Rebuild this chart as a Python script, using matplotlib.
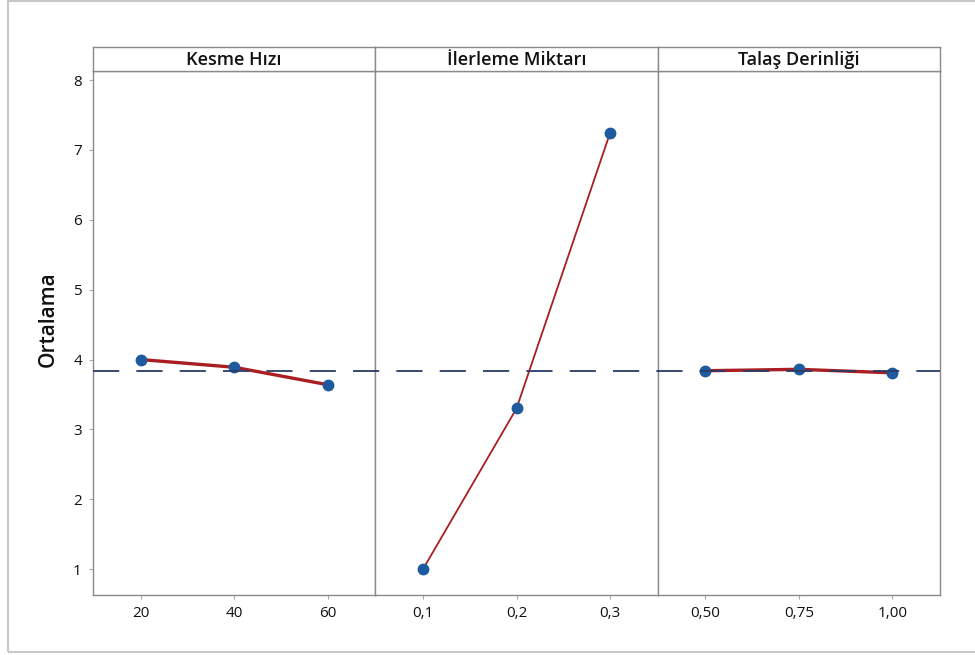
import matplotlib
matplotlib.use("Agg")
import matplotlib.pyplot as plt
from matplotlib.patches import Rectangle

plt.rcParams['font.family'] = ['Open Sans', 'DejaVu Sans']

factors = ["Kesme Hızı", "İlerleme Miktarı", "Talaş Derinliği"]
levels = [["20", "40", "60"], ["0,1", "0,2", "0,3"], ["0,50", "0,75", "1,00"]]
means = [[4.00, 3.89, 3.64], [1.00, 3.30, 7.24], [3.84, 3.86, 3.81]]
grand_mean = 3.84
yticks = [1, 2, 3, 4, 5, 6, 7, 8]
ylabel = "Ortalama"

W, H = 975, 655
fig = plt.figure(figsize=(W / 100, H / 100), dpi=100)
fig.patches.append(Rectangle((8 / W, 1 - 652 / H), 1.1, (652 - 1) / H,
                             transform=fig.transFigure, fill=False,
                             edgecolor='#C8C8C8', linewidth=1.5, zorder=0))

left, right = 93 / W, 940 / W
bottom, top = 1 - 595 / H, 1 - 71 / H
strip_top = 1 - 47 / H
pw = (right - left) / 3
ylim = (0.63, 8.13)
spine_c = '#8A8A8A'
line_lws = [2.4, 1.3, 2.4]
txt_c = '#111111'

axes = []
for i in range(3):
    ax = fig.add_axes([left + i * pw, bottom, pw, top - bottom])
    x = list(range(len(levels[i])))
    ax.plot(x, means[i], color='#A81E22', lw=line_lws[i], zorder=3)
    ax.plot(x, means[i], 'o', color='#1D5A9E', markersize=7.5, zorder=4)
    ax.set_xlim(-0.51, 2.51)
    ax.set_ylim(*ylim)
    ax.set_xticks(x)
    ax.set_xticklabels(levels[i], fontsize=11, color=txt_c, fontweight='medium')
    ax.set_yticks(yticks)
    if i == 0:
        ax.set_yticklabels([str(v) for v in yticks], fontsize=11, color=txt_c,
                           fontweight='medium')
        ax.set_ylabel(ylabel, fontsize=15, color=txt_c, fontweight='semibold')
        ax.yaxis.set_label_coords(-0.12, 0.527)
    else:
        ax.tick_params(axis='y', left=False, labelleft=False)
    ax.tick_params(axis='both', length=3, width=0.8, color='#AAAAAA', pad=5)
    for s in ax.spines.values():
        s.set_color(spine_c)
        s.set_linewidth(1.0)
    axes.append(ax)

    sax = fig.add_axes([left + i * pw, top, pw, strip_top - top])
    sax.set_xticks([])
    sax.set_yticks([])
    for s in sax.spines.values():
        s.set_color(spine_c)
        s.set_linewidth(1.0)
    sax.text(0.5, 0.45, factors[i], ha='center', va='center',
             fontsize=13, color=txt_c, fontweight='semibold',
             transform=sax.transAxes)

# grand mean reference line across all panels
ov = fig.add_axes([left, bottom, right - left, top - bottom])
ov.set_ylim(*ylim)
ov.set_xlim(0, 1)
ov.axis('off')
ov.axhline(grand_mean, color='#2A3A66', lw=1.3, dashes=(14.5, 9.5), zorder=2)

fig.savefig("out.png", dpi=100)
